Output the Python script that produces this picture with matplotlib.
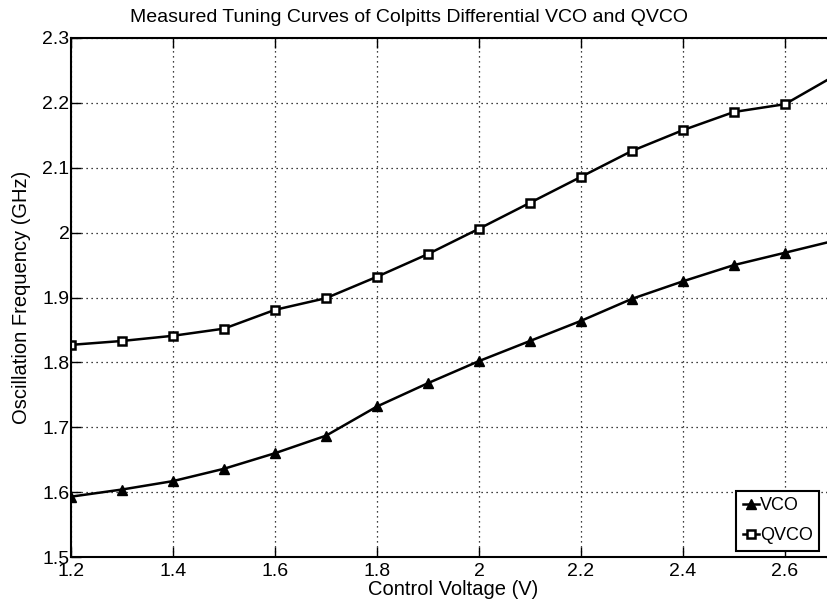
import numpy as np
import matplotlib.pyplot as plt

plt.rcParams['font.family'] = ['Liberation Sans', 'DejaVu Sans']

# Control voltage (V); last point has no marker, line runs off the plot edge
voltage = [1.2, 1.3, 1.4, 1.5, 1.6, 1.7, 1.8, 1.9, 2.0, 2.1, 2.2, 2.3, 2.4, 2.5, 2.6, 2.72]
vco = [1.593, 1.604, 1.617, 1.636, 1.660, 1.687, 1.732, 1.768, 1.802, 1.833,
       1.864, 1.898, 1.925, 1.950, 1.969, 1.992]
qvco = [1.827, 1.833, 1.841, 1.852, 1.881, 1.899, 1.932, 1.967, 2.006, 2.046,
        2.086, 2.126, 2.158, 2.186, 2.198, 2.252]

x_ticks = [1.2, 1.4, 1.6, 1.8, 2.0, 2.2, 2.4, 2.6]
x_labels = ['1.2', '1.4', '1.6', '1.8', '2', '2.2', '2.4', '2.6']
y_ticks = [1.5, 1.6, 1.7, 1.8, 1.9, 2.0, 2.1, 2.2, 2.3]
y_labels = ['1.5', '1.6', '1.7', '1.8', '1.9', '2', '2.1', '2.2', '2.3']

fig = plt.figure(figsize=(8.27, 6.07), dpi=100)
# axes run past the right edge of the figure (cropped like the original)
ax = fig.add_axes([71 / 827, 50 / 607, 765 / 827, 519 / 607])

mark = list(range(len(voltage) - 1))
ax.plot(voltage, vco, color='black', lw=1.8, marker='^', ms=6.5,
        mfc='black', mec='black', markevery=mark, label='VCO')
ax.plot(voltage, qvco, color='black', lw=1.8, marker='s', ms=6,
        mfc='white', mec='black', mew=1.8, markevery=mark, label='QVCO')

ax.set_xlim(1.2, 2.7)
ax.set_ylim(1.5, 2.3)
ax.set_xticks(x_ticks)
ax.set_xticklabels(x_labels)
ax.set_yticks(y_ticks)
ax.set_yticklabels(y_labels)
ax.tick_params(direction='in', length=7, width=1, labelsize=14,
               top=True, right=True)
ax.tick_params(axis='x', pad=4)
ax.tick_params(axis='y', pad=1)
ax.grid(True, color='black', linestyle=(0, (1, 3)), linewidth=0.9)
for s in ax.spines.values():
    s.set_linewidth(1.5)

ax.set_xlabel('Control Voltage (V)', fontsize=14.5, labelpad=0)
ax.set_ylabel('Oscillation Frequency (GHz)', fontsize=14.5, labelpad=8)
fig.text(409 / 827, 1 - 17 / 607, 'Measured Tuning Curves of Colpitts Differential VCO and QVCO',
         ha='center', va='center', fontsize=14)

leg = ax.legend(loc='lower right', bbox_to_anchor=(819 / 765 - 71 / 765, 0.012),
                fontsize=13, handlelength=0.9, handletextpad=0.05,
                borderpad=0.35, labelspacing=0.75, fancybox=False,
                framealpha=1, borderaxespad=0)
leg.get_frame().set_edgecolor('black')
leg.get_frame().set_linewidth(1.5)

fig.savefig('out.png', dpi=100)
